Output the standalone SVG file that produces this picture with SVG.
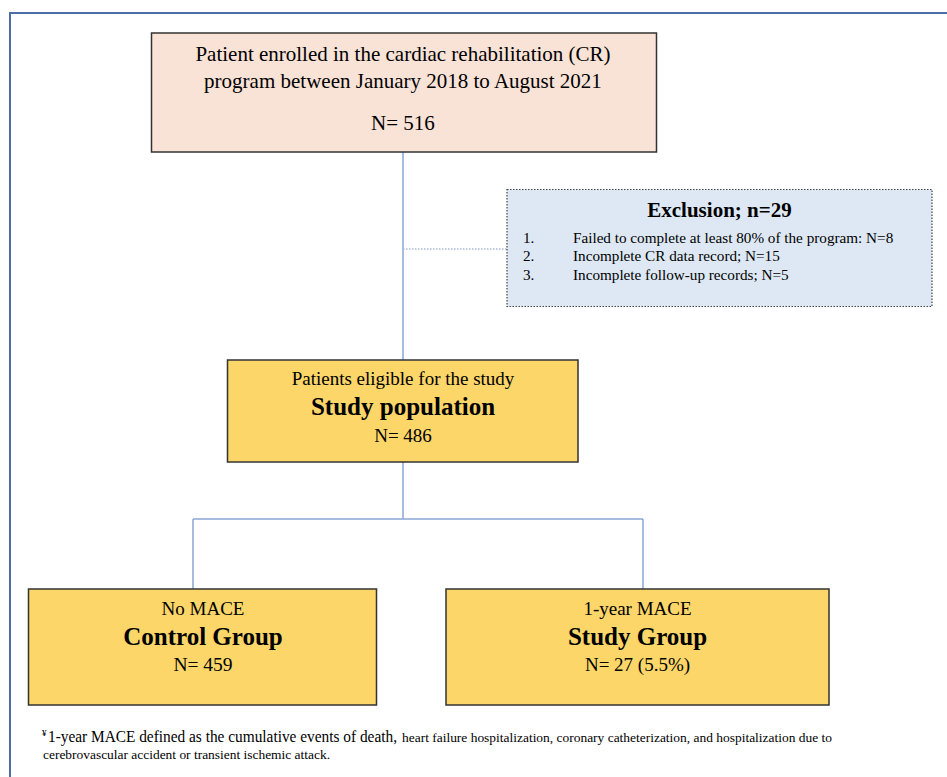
<svg xmlns="http://www.w3.org/2000/svg" width="947" height="777" viewBox="0 0 947 777" font-family="Liberation Serif, Times New Roman, Times, serif">
<style>
text{fill:#000}
.c{text-anchor:middle}
.b{font-weight:bold}
.box{stroke:#333;stroke-width:1.5}
.gold{fill:#FCD669}
.ln{stroke:#8AA6D6;stroke-width:1.5;fill:none}
.it{font-size:15.2px}
</style>
<rect x="0" y="0" width="947" height="777" fill="#fff"/>
<path d="M10,777 V13 H947" fill="none" stroke="#4C6DA8" stroke-width="2"/>
<g id="connectors">
<path class="ln" d="M403,152 V360"/>
<path d="M403,249 H507" stroke="#A9B9D6" stroke-width="1.5" stroke-dasharray="1.5,1.5"/>
<path class="ln" d="M403,462 V519 M193,519 H643 M193,519 V589 M643,519 V589"/>
</g>
<g id="enrolled">
<rect class="box" x="151.5" y="33" width="505" height="119" fill="#F9E3D7"/>
<text class="c" x="403" y="61" font-size="21">Patient enrolled in the cardiac rehabilitation (CR)</text>
<text class="c" x="403" y="88" font-size="21">program between January 2018 to August 2021</text>
<text class="c" x="403" y="130" font-size="21">N= 516</text>
</g>
<g id="exclusion">
<rect x="507" y="189.5" width="425" height="117" fill="#DDE8F4" stroke="#444" stroke-width="1.2" stroke-dasharray="1.5,1.5"/>
<text class="c b" x="719.5" y="217" font-size="21">Exclusion; n=29</text>
<text class="it" x="523" y="242.5">1.</text>
<text class="it" x="573" y="242.5">Failed to complete at least 80% of the program: N=8</text>
<text class="it" x="523" y="261">2.</text>
<text class="it" x="573" y="261">Incomplete CR data record; N=15</text>
<text class="it" x="523" y="279.5">3.</text>
<text class="it" x="573" y="279.5">Incomplete follow-up records; N=5</text>
</g>
<g id="study-population">
<rect class="box gold" x="227.5" y="360" width="350.5" height="102"/>
<text class="c" x="403" y="385" font-size="19">Patients eligible for the study</text>
<text class="c b" x="403" y="415" font-size="25">Study population</text>
<text class="c" x="403" y="441.5" font-size="19">N= 486</text>
</g>
<g id="control-group">
<rect class="box gold" x="28.5" y="589" width="348" height="116"/>
<text class="c" x="203" y="615" font-size="19">No MACE</text>
<text class="c b" x="203" y="645" font-size="25">Control Group</text>
<text class="c" x="203" y="671" font-size="19.5">N= 459</text>
</g>
<g id="study-group">
<rect class="box gold" x="446" y="589" width="383" height="116"/>
<text class="c" x="637.5" y="615" font-size="19">1-year MACE</text>
<text class="c b" x="637.5" y="645" font-size="25">Study Group</text>
<text class="c" x="637.5" y="671" font-size="19">N= 27 (5.5%)</text>
</g>
<g id="footnote">
<text x="42" y="736" font-size="9">¥</text>
<text x="48" y="742" font-size="15.7" textLength="349" lengthAdjust="spacingAndGlyphs">1-year MACE defined as the cumulative events of death,</text>
<text x="402" y="742" font-size="13.2" textLength="430" lengthAdjust="spacingAndGlyphs">heart failure hospitalization, coronary catheterization, and hospitalization due to</text>
<text x="43" y="759" font-size="13.4" textLength="287" lengthAdjust="spacingAndGlyphs">cerebrovascular accident or transient ischemic attack.</text>
</g>
</svg>
